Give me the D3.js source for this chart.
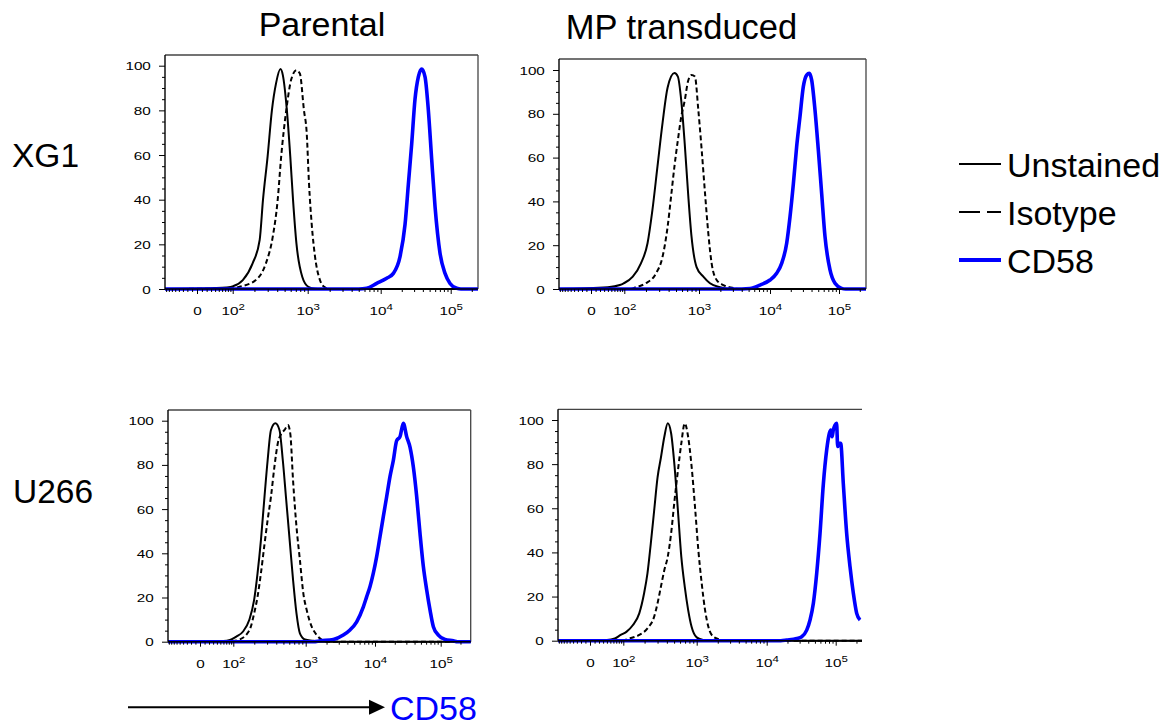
<!DOCTYPE html>
<html>
<head>
<meta charset="utf-8">
<script src="https://cdn.jsdelivr.net/npm/d3@7"></script>
<style>
  html, body { margin: 0; padding: 0; background: #fff; }
  svg { display: block; font-family: "Liberation Sans", Arial, Helvetica, sans-serif; }
</style>
</head>
<body>
<svg id="chart" width="1172" height="727"></svg>
<script>
// ---- labels ----
const columnTitles = ["Parental", "MP transduced"];
const rowLabels = ["XG1", "U266"];
const seriesNames = ["Unstained", "Isotype", "CD58"];
const axisTitle = "CD58";

// ---- tick values ----
const yTickValues = [0, 20, 40, 60, 80, 100];
const xTickValues = [0, 100, 1000, 10000, 100000];
const xTickBase = ["0", "10", "10", "10", "10"];
const xTickExp = ["", "2", "3", "4", "5"];

// ---- histograms: [fluorescence intensity, % of max] ----
const xg1ParentalUnstained = [[40,0.4],[75,0.7],[102,1.3],[139,4],[189,11.5],[235,22],[260,40],[299,59.3],[341,80.1],[386,92.1],[441,98.5],[474,95.8],[535,80.1],[593,59.3],[644,39.9],[713,20.4],[849,5.5],[1020,1],[1260,0.1],[1500,0]];
const xg1ParentalIsotype = [[100,0.3],[125,1],[209,4],[284,11.5],[348,23],[406,40],[450,59],[525,80],[612,94],[713,98],[790,96.5],[894,80],[970,70],[1043,47],[1135,29],[1260,14.5],[1473,4],[1725,0.7],[2000,0]];
const xg1ParentalCD58 = [[5000,0],[6427,0.3],[8810,2.5],[12180,4.8],[15170,7],[18880,14.5],[22280,29],[24850,47],[27720,65],[30920,85],[34500,95],[38500,98.5],[42980,95],[47960,80],[53500,58],[59700,37],[70400,16],[83000,7],[97800,2.5],[122000,0.3],[140000,0]];

const xg1MPUnstained = [[40,0.8],[80,1.8],[97,2.6],[132,5.6],[171,11.7],[210,20.9],[244,36],[285,56],[333,76],[388,92],[477,98.6],[529,97],[586,86],[650,66.5],[720,43.7],[798,24],[930,10],[1151,5.6],[1428,2.6],[1978,0.8],[2735,0]];
const xg1MPIsotype = [[120,0],[146,0.8],[199,2.6],[271,7],[333,14.8],[388,28.5],[430,42],[477,56],[529,68],[586,78.7],[650,86],[720,95],[798,97.7],[884,97],[980,81.7],[1091,63.5],[1216,43.7],[1353,25.4],[1507,11.7],[1773,4.1],[2203,1.8],[3046,0.5],[3600,0]];
const xg1MPCD58 = [[4000,0],[5225,0.2],[7230,1.8],[10000,4.1],[12490,7.2],[14760,11.7],[17450,20.9],[19500,33],[21800,48],[24340,65],[27200,78.7],[30400,92.4],[33970,97.7],[37150,98.5],[40180,95.4],[44890,81.7],[50150,63.5],[56050,43.7],[62650,24],[74100,8.7],[87500,2.6],[109000,0.3],[125000,0]];

const u266ParentalUnstained = [[60,0.3],[85,0.8],[111,2.3],[138,4.5],[170,9.8],[199,18.9],[222,31],[247,46],[274,64],[305,82],[339,95.8],[389,98.8],[442,95.8],[491,82],[546,64],[607,46],[675,28],[751,12.8],[835,3.8],[979,1],[1290,0.4],[1500,0]];
const u266ParentalIsotype = [[100,0.3],[124,1],[153,3],[179,6.8],[199,12.8],[222,20.4],[247,31],[274,43],[305,55],[339,65.6],[377,79],[419,89.7],[466,94],[518,95.8],[576,98],[620,94],[675,73],[751,52],[835,37],[929,21.9],[1034,14.3],[1221,6.8],[1442,3],[1800,0.5],[2100,0]];
const u266ParentalCD58 = [[1300,0],[1611,0.4],[2505,1],[3490,3],[4357,5.3],[5440,9],[6790,15.8],[7590,20.4],[8480,25],[9460,31],[10600,38.5],[11910,47.5],[13380,56.6],[15050,65.6],[16910,74.7],[19000,82],[21370,91],[24030,92.8],[26990,98.8],[30340,92.8],[34110,88],[38350,79],[43120,65.6],[48420,49],[54450,34],[61220,23.4],[68840,14.3],[77300,6.8],[92100,3],[116400,1],[156000,0.4],[180000,0]];

const u266MPUnstained = [[40,0.3],[65,1],[88,2.6],[111,4],[137,7],[169,12.4],[197,21.5],[219,30.5],[243,44],[270,59],[300,74],[333,83],[370,92.4],[411,98.5],[456,94],[507,79],[562,59],[624,38],[693,24.5],[769,14],[855,6.3],[1000,1.5],[1245,0.3],[1400,0]];
const u266MPIsotype = [[100,0.2],[123,1],[169,2.6],[219,5.6],[270,10.9],[300,17],[333,24.5],[370,32],[411,38],[456,48.6],[507,63.7],[562,77],[624,89.4],[693,98.5],[769,92.4],[855,79],[949,60.7],[1056,41],[1179,26],[1315,14],[1468,6.3],[1730,1.8],[2155,0.5],[2500,0]];
const u266MPCD58 = [[16000,0],[19490,0.3],[27230,1],[32170,1.8],[38000,4.8],[42480,9.4],[47460,17],[53040,30.5],[59260,48.6],[66220,71],[74000,86.4],[80950,94],[84660,95.5],[88480,92.4],[92500,95.5],[97800,97.7],[103000,98.5],[106900,88],[111800,89.4],[118100,89.4],[129000,71],[144200,48.6],[161300,33.5],[180200,21.5],[201500,12.4],[225200,9.4]];

// ---- layout ----
const panels = [
  { series: [xg1ParentalUnstained, xg1ParentalIsotype, xg1ParentalCD58],
    left: 165, right: 478, top: 55, zero: 289, y100: 65.7,
    ticksPx: [197, 232.7, 307.7, 380.7, 450.7], rightBorder: true },
  { series: [xg1MPUnstained, xg1MPIsotype, xg1MPCD58],
    left: 559, right: 866, top: 59, zero: 289, y100: 70,
    ticksPx: [591, 624.3, 699, 770, 839], rightBorder: true },
  { series: [u266ParentalUnstained, u266ParentalIsotype, u266ParentalCD58],
    left: 168, right: 470.7, top: 410, zero: 641.7, y100: 420.7,
    ticksPx: [200, 233.3, 305.7, 375, 440.7], rightBorder: true },
  { series: [u266MPUnstained, u266MPIsotype, u266MPCD58],
    left: 558, right: 862, top: 409.3, zero: 640.7, y100: 420,
    ticksPx: [590, 623.3, 696.7, 766.7, 835.7], rightBorder: false }
];

const styles = [
  { color: "#000000", width: 2.0, dash: null },
  { color: "#000000", width: 2.0, dash: "5,3" },
  { color: "#0000ff", width: 3.6, dash: null }
];
const drawOrder = [0, 1, 2];

// biexponential-like transform (linear near zero, log above)
const W = 25;
const T = v => Math.asinh(v / (2 * W)) / Math.LN10;
const Tinv = t => 2 * W * Math.sinh(t * Math.LN10);

const svg = d3.select("#chart");
const fontFamily = '"Liberation Sans", Arial, Helvetica, sans-serif';
const labelScale = "scale(1.35,1)";
const labelSize = 11.3;

panels.forEach(p => {
  const g = svg.append("g");

  // x: transform then piecewise-linear between the labelled decades
  const xT = d3.scaleLinear().domain(xTickValues.map(T)).range(p.ticksPx);
  const x = v => xT(T(v));
  const vMin = Tinv(xT.invert(p.left));
  const vMax = Tinv(xT.invert(p.right));
  const y = d3.scaleLinear().domain([0, 100]).range([p.zero, p.y100]);

  // frame: top / right in grey
  g.append("line").attr("x1", p.left).attr("x2", p.right).attr("y1", p.top).attr("y2", p.top)
    .attr("stroke", "#444").attr("stroke-width", 1.3);
  if (p.rightBorder) {
    g.append("line").attr("x1", p.right).attr("x2", p.right).attr("y1", p.top).attr("y2", p.zero)
      .attr("stroke", "#444").attr("stroke-width", 1.3);
  }

  // histograms
  const line = d3.line().x(d => x(d[0])).y(d => y(d[1])).curve(d3.curveMonotoneX);
  drawOrder.forEach(i => {
    const pts = p.series[i].slice();
    pts.unshift([vMin, 0]);
    if (pts[pts.length - 1][1] === 0) pts.push([vMax, 0]);
    const s = styles[i];
    g.append("path").datum(pts)
      .attr("d", line)
      .attr("fill", "none")
      .attr("stroke", s.color)
      .attr("stroke-width", s.width)
      .attr("stroke-linejoin", "round")
      .attr("stroke-dasharray", s.dash);
  });

  // y axis: minors + majors
  g.append("g").attr("transform", `translate(${p.left},0)`)
    .call(d3.axisLeft(y).tickValues(d3.range(0, 101, 5).filter(v => v % 20 !== 0))
      .tickSize(3).tickFormat(""))
    .call(a => a.select(".domain").remove());
  const yMajor = g.append("g").attr("transform", `translate(${p.left},0)`)
    .call(d3.axisLeft(y).tickValues(yTickValues).tickSize(6).tickFormat(d3.format("d")));
  yMajor.select(".domain").remove();
  yMajor.selectAll("text")
    .attr("x", -10.5).attr("dy", "0.36em")
    .attr("transform", labelScale)
    .attr("font-size", labelSize).attr("font-family", fontFamily).attr("fill", "#000");

  // x axis: minors + majors
  const minors = [];
  for (let k = 1; k <= 9; k++) { minors.push(-10 * k, 10 * k); }
  [100, 1000, 10000, 100000].forEach(dec => { for (let m = 2; m <= 9; m++) minors.push(m * dec); });
  const minorT = minors.filter(v => v > vMin && v < vMax).map(T);
  g.append("g").attr("transform", `translate(0,${p.zero})`)
    .call(d3.axisBottom(xT).tickValues(minorT).tickSize(3).tickFormat(""))
    .call(a => a.select(".domain").remove());
  const xMajor = g.append("g").attr("transform", `translate(0,${p.zero})`)
    .call(d3.axisBottom(xT).tickValues(xTickValues.map(T)).tickSize(5).tickFormat(""));
  xMajor.select(".domain").remove();
  xMajor.selectAll(".tick").each(function (d, i) {
    const t = d3.select(this).select("text")
      .attr("y", 26.5).attr("dy", null)
      .attr("text-anchor", "middle")
      .attr("transform", labelScale)
      .attr("font-size", labelSize).attr("font-family", fontFamily).attr("fill", "#000")
      .text(null);
    t.append("tspan").text(xTickBase[i]);
    if (xTickExp[i]) t.append("tspan").attr("dy", -5.5).attr("font-size", 8.5).text(xTickExp[i]);
  });
  g.selectAll(".tick line").attr("stroke", "#000");

  // axis lines
  g.append("line").attr("x1", p.left).attr("x2", p.left).attr("y1", p.top).attr("y2", p.zero)
    .attr("stroke", "#000").attr("stroke-width", 1.4);
  g.append("line").attr("x1", p.left).attr("x2", p.right).attr("y1", p.zero).attr("y2", p.zero)
    .attr("stroke", "#000").attr("stroke-width", 1.4);
});

// column titles
svg.append("text").attr("x", 322).attr("y", 36).attr("text-anchor", "middle")
  .attr("font-size", 34).attr("fill", "#000").text(columnTitles[0]);
svg.append("text").attr("x", 681.5).attr("y", 39).attr("text-anchor", "middle")
  .attr("font-size", 34.5).attr("fill", "#000").text(columnTitles[1]);

// row labels
svg.append("text").attr("x", 12).attr("y", 167).attr("font-size", 33.5).attr("fill", "#000").text(rowLabels[0]);
svg.append("text").attr("x", 13).attr("y", 502.5).attr("font-size", 33.5).attr("fill", "#000").text(rowLabels[1]);

// legend
const legendY = [164, 212, 260];
const legendStyles = [
  { color: "#000", width: 1.8, dash: null },
  { color: "#000", width: 1.8, dash: "21,7" },
  { color: "#0000ff", width: 3.8, dash: null }
];
const legend = svg.append("g");
seriesNames.forEach((name, i) => {
  legend.append("line").attr("x1", 959).attr("x2", 1001)
    .attr("y1", legendY[i]).attr("y2", legendY[i])
    .attr("stroke", legendStyles[i].color).attr("stroke-width", legendStyles[i].width)
    .attr("stroke-dasharray", legendStyles[i].dash);
  legend.append("text").attr("x", 1007).attr("y", legendY[i] + 12.5)
    .attr("font-size", 34).attr("fill", "#000").text(name);
});

// axis arrow and label
svg.append("line").attr("x1", 128).attr("x2", 372).attr("y1", 707.3).attr("y2", 707.3)
  .attr("stroke", "#000").attr("stroke-width", 2);
svg.append("path").attr("d", "M369,699.8 L385,707.3 L369,714.8 Z").attr("fill", "#000");
svg.append("text").attr("x", 390).attr("y", 720).attr("font-size", 34).attr("fill", "#0000ff").text(axisTitle);
</script>
</body>
</html>
